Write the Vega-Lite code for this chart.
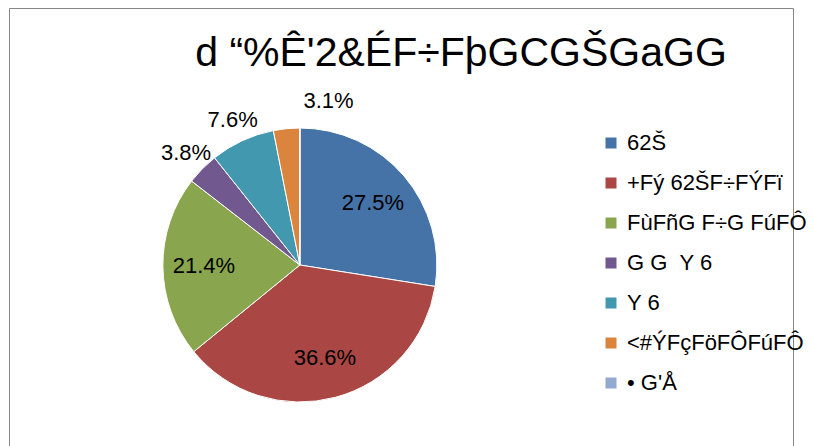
{
  "$schema": "https://vega.github.io/schema/vega-lite/v6.json",
  "autosize": {"type": "none"},
  "width": 784,
  "height": 452,
  "padding": {"left": 9, "top": 8, "right": 20, "bottom": -14},
  "background": "white",
  "view": {"stroke": "#868686", "strokeWidth": 1, "fill": null},
  "title": {
    "text": "d “%Ê'2&ÉF÷FþGCGŠGaGG",
    "anchor": "middle",
    "frame": "group",
    "dx": 60,
    "offset": -67,
    "fontSize": 41,
    "font": "Liberation Sans",
    "fontWeight": "normal",
    "color": "#000000"
  },
  "data": {
    "values": [
      {"idx": 1, "cat": "\u00a062Š", "share": 0.275},
      {"idx": 2, "cat": "\u00a0+Fý 62ŠF÷FÝFï", "share": 0.366},
      {"idx": 3, "cat": "FùFñG F÷G FúFÔ", "share": 0.214},
      {"idx": 4, "cat": "G G \u00a0Y 6", "share": 0.038},
      {"idx": 5, "cat": "\u00a0Y 6", "share": 0.076},
      {"idx": 6, "cat": "\u00a0<#ÝFçFöFÔFúFÔ", "share": 0.031},
      {"idx": 7, "cat": "\u00a0• G'Å", "share": 0}
    ]
  },
  "encoding": {
    "theta": {"field": "share", "type": "quantitative", "stack": true},
    "order": {"field": "idx", "type": "quantitative"}
  },
  "layer": [
    {
      "mark": {
        "type": "arc",
        "outerRadius": 137,
        "stroke": "#ffffff",
        "strokeWidth": 1,
        "x": {"expr": "width*0.371"},
        "y": {"expr": "height*0.5686"}
      },
      "encoding": {
        "color": {
          "field": "cat",
          "type": "nominal",
          "scale": {
            "domain": ["\u00a062Š", "\u00a0+Fý 62ŠF÷FÝFï", "FùFñG F÷G FúFÔ", "G G \u00a0Y 6", "\u00a0Y 6", "\u00a0<#ÝFçFöFÔFúFÔ", "\u00a0• G'Å"],
            "range": ["#4572A7", "#AA4643", "#89A54E", "#71588F", "#4198AF", "#DB843D", "#93A9CF"]
          },
          "legend": {
            "title": null,
            "orient": "none",
            "legendX": 591,
            "legendY": 124,
            "symbolType": "square",
            "symbolSize": 121,
            "symbolStrokeWidth": 0,
            "labelFont": "Liberation Sans",
            "labelFontSize": 22,
            "labelColor": "#000000",
            "rowPadding": 18,
            "labelOffset": 5,
            "labelLimit": 400,
            "padding": 0
          }
        }
      }
    },
    {
      "mark": {
        "type": "text",
        "radius": 96,
        "x": {"expr": "width*0.371"},
        "y": {"expr": "height*0.5686"},
        "font": "Liberation Sans",
        "fontSize": 22,
        "color": "#000000"
      },
      "encoding": {
        "text": {
          "condition": {"test": "datum.share >= 0.1", "field": "share", "type": "quantitative", "format": ".1%"},
          "value": ""
        }
      }
    },
    {
      "mark": {
        "type": "text",
        "radius": 160,
        "x": {"expr": "width*0.371"},
        "y": {"expr": "height*0.5686"},
        "font": "Liberation Sans",
        "fontSize": 22,
        "color": "#000000"
      },
      "encoding": {
        "text": {
          "condition": {"test": "datum.share > 0.035 && datum.share < 0.1", "field": "share", "type": "quantitative", "format": ".1%"},
          "value": ""
        }
      }
    },
    {
      "mark": {
        "type": "text",
        "radius": 158,
        "dx": 44,
        "dy": -7,
        "x": {"expr": "width*0.371"},
        "y": {"expr": "height*0.5686"},
        "font": "Liberation Sans",
        "fontSize": 22,
        "color": "#000000"
      },
      "encoding": {
        "text": {
          "condition": {"test": "datum.share > 0 && datum.share <= 0.035", "field": "share", "type": "quantitative", "format": ".1%"},
          "value": ""
        }
      }
    }
  ],
  "config": {
    "view": {"stroke": "#868686", "strokeWidth": 1}
  }
}
